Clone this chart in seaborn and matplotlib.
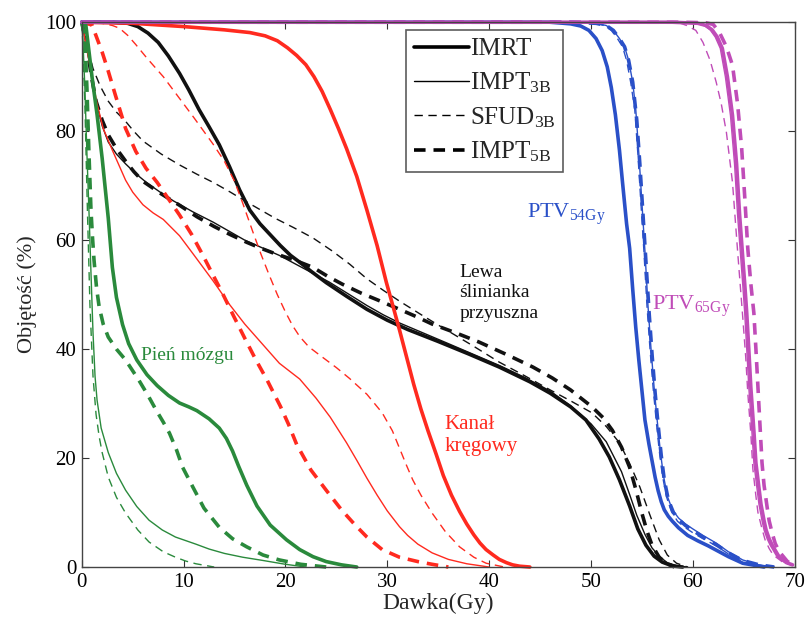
import matplotlib
matplotlib.use("Agg")
import matplotlib.pyplot as plt
from matplotlib.lines import Line2D
import seaborn as sns
import pandas as pd

# ---------------- data (dose in Gy, volume in %) ----------------
# Left parotid (black)
par_imrt_x = [0, 3, 4.5, 5.5, 6.5, 7.5, 8.5, 9.6, 10.5, 11.5, 12.5, 13.5, 14.5, 15.5, 16.5, 17.5, 18.5, 19.5, 20.5, 21.5, 22.5, 24, 26, 28, 30, 32, 35, 38, 41, 44, 46, 48, 49.5, 50.8, 51.8, 52.8, 53.8, 54.6, 55.4, 56.2, 57, 58, 59]
par_imrt_y = [100, 100, 99.8, 99.2, 98, 96.3, 93.8, 90.6, 87.6, 84, 80.8, 77.5, 73.5, 69.2, 65.5, 63, 61, 59, 57.2, 55.8, 54.3, 52.2, 49.7, 47.3, 45.3, 43.6, 41.4, 39.1, 36.7, 34, 31.9, 29.4, 27, 23.5, 20.2, 16, 11.2, 7, 4, 2, 0.9, 0.2, 0]
par_impt3_x = [0, 0.3, 0.7, 1.0, 1.4, 2.0, 2.6, 3.4, 4.3, 5.3, 6.4, 7.7, 9, 10.9, 12.9, 14.5, 16, 17.7, 19.4, 21.8, 24.3, 26.2, 28, 29.6, 31.2, 33.6, 36, 38.5, 41, 43.5, 46, 48, 50, 51.5, 53, 53.8, 54.5, 55.3, 56, 56.8, 57.5, 58.5, 59.5]
par_impt3_y = [100, 97, 93, 89.5, 85.5, 81, 78, 75.8, 74, 72.2, 70.5, 68.8, 67.2, 65.2, 63.3, 61.6, 60, 58.6, 57.2, 54.8, 52.3, 50.1, 48, 46.3, 44.8, 42.9, 41, 39, 37, 34.8, 32.3, 29.6, 26.3, 23, 17.5, 13.3, 9.5, 6, 3.5, 1.8, 0.8, 0.2, 0]
par_sfud_x = [0, 0.3, 0.7, 1.1, 1.8, 2.6, 3.4, 4.3, 5.1, 6, 7.8, 9.6, 11.3, 13, 14.6, 16.2, 17.6, 19, 20.8, 22.7, 24.6, 26.3, 28, 29.6, 31.2, 33.6, 36, 38.5, 41, 43.5, 46, 48, 50.1, 51.5, 52.8, 53.8, 54.8, 55.8, 56.7, 57.5, 58.4, 59.5]
par_sfud_y = [100, 98, 94.5, 91.5, 88.3, 85.5, 83.5, 81.8, 80, 78.2, 75.8, 73.8, 72.1, 70.5, 68.8, 67, 65.5, 64, 62.3, 60.4, 58, 55.6, 52.9, 50.8, 48.8, 46, 43.3, 40.5, 37.6, 35.1, 32.5, 30.5, 28.3, 25.8, 22.8, 19, 14.7, 9.5, 5, 2.2, 0.7, 0]
par_impt5_x = [0, 0.3, 0.7, 1.0, 1.4, 2.0, 2.6, 3.4, 4.3, 5.1, 6, 7.8, 9.6, 11.3, 13, 14.6, 16.2, 17.6, 19, 20.8, 22.7, 24.2, 25.6, 27.4, 29.2, 31.2, 32.8, 34.4, 36.7, 39, 41.6, 44.3, 46.2, 48, 50.1, 51.2, 52.1, 53, 53.8, 54.4, 55, 55.5, 56, 56.7, 57.4, 58.2]
par_impt5_y = [100, 97.5, 93, 89.5, 85.5, 82, 79.3, 76.8, 74.5, 72.6, 70.8, 68.5, 66.4, 64.3, 62.5, 61, 59.6, 58.5, 57.5, 56.4, 55, 53.3, 51.9, 50.3, 48.9, 47.3, 46, 44.6, 43, 41.3, 39.1, 36.7, 34.7, 32.5, 29.4, 27.4, 25.1, 22, 18.3, 14.3, 9.9, 6.6, 4, 1.8, 0.7, 0]

# Spinal canal (red)
sc_imrt_x = [0, 5, 10, 14, 16.5, 18, 19.2, 20.2, 21.1, 22, 22.8, 23.6, 24.4, 25.2, 26, 27, 28, 29, 29.9, 30.6, 31.2, 31.9, 32.6, 33.3, 34, 34.8, 35.5, 36.3, 37.1, 37.8, 38.5, 39.1, 39.7, 40.4, 41, 41.7, 42.3, 43, 44]
sc_imrt_y = [100, 99.8, 99.2, 98.6, 98.1, 97.5, 96.6, 95.3, 93.9, 92.2, 90, 87.3, 84, 80.5, 76.8, 71.7, 65.5, 59, 52.3, 47.6, 43.5, 38.5, 33.5, 29, 25, 20.7, 16.8, 13.2, 10.2, 7.9, 5.9, 4.4, 3.2, 2.2, 1.4, 0.8, 0.4, 0.15, 0]
sc_impt3_x = [0, 0.5, 1, 1.5, 2.1, 3, 4.3, 5, 6, 7, 8, 9.6, 11, 12.9, 14.5, 16, 17.7, 19.4, 21.4, 23, 24.4, 26, 27, 28, 29, 30, 31.2, 32, 33, 34.4, 36, 37.8, 40]
sc_impt3_y = [100, 95, 90, 85, 80.5, 76.5, 71, 68.8, 66.5, 65, 63.8, 60.8, 57.3, 52.5, 48.2, 44.6, 41, 37.4, 34.5, 31, 27.5, 22.8, 19.6, 16.3, 13.2, 10.3, 7.4, 5.8, 4.2, 2.6, 1.4, 0.6, 0]
sc_sfud_x = [0, 2, 3, 3.7, 4.5, 5.3, 6.4, 8, 9.6, 11, 12.9, 14, 15, 15.8, 16.8, 17.6, 18.4, 19.2, 20, 20.7, 21.4, 22.3, 23.5, 25, 26.3, 28, 29.5, 30.5, 31.2, 31.9, 32.5, 33.3, 34.4, 35.7, 37.1, 38.5, 39.7, 41.5]
sc_sfud_y = [100, 99.8, 99.4, 98.9, 97.6, 95.9, 93.4, 90, 86, 82.5, 77.6, 74.5, 70.8, 66.8, 61.5, 57.4, 53.6, 50, 46.8, 44.3, 42.3, 40.4, 38.7, 36.6, 34.6, 31.7, 28.3, 25, 21.8, 18.6, 16, 13.2, 9.9, 6.5, 3.7, 1.8, 0.7, 0]
sc_impt5_x = [0, 1, 1.4, 2, 2.6, 3.3, 4.3, 5.3, 6.3, 7.4, 8.5, 9.6, 10.8, 11.9, 12.8, 13.8, 14.9, 16, 17.1, 18.2, 19.5, 20.3, 21.1, 22.5, 24, 25.5, 26.8, 28, 29.5, 31.2, 33, 34.4, 36]
sc_impt5_y = [100, 99.5, 97.5, 94.5, 91, 86.6, 80.5, 76.3, 73.2, 70.6, 67.6, 64.6, 61, 57.2, 53.9, 50.3, 46.1, 42, 38, 34.3, 29.5, 26.2, 22.5, 17.8, 14.1, 10.5, 7.8, 5.5, 3.2, 1.8, 1, 0.5, 0]

# Brainstem (green)
bs_imrt_x = [0, 0.4, 1, 1.5, 2, 2.6, 3, 3.4, 4, 4.6, 5.4, 6.4, 7.4, 8.5, 9.6, 10.5, 11.3, 12.5, 13.5, 14.2, 14.8, 15.4, 16.2, 17.2, 18.5, 20.1, 21.4, 22.7, 24, 25.5, 27]
bs_imrt_y = [100, 99.4, 90, 83, 75, 64, 55, 49.5, 44.5, 41, 38, 35.3, 33.3, 31.5, 30.1, 29.4, 28.7, 27.2, 25.5, 23.6, 21.3, 18.5, 15, 11.2, 7.7, 5, 3.2, 1.9, 1, 0.4, 0]
bs_impt3_x = [0, 0.1, 0.3, 0.5, 0.7, 0.9, 1.1, 1.3, 1.5, 1.9, 2.6, 3.4, 4.3, 5.4, 6.6, 7.9, 9.2, 11.2, 12.5, 14, 15.8, 17.8, 20, 22]
bs_impt3_y = [100, 97, 88, 76, 65.5, 54, 43, 35, 30.6, 25.5, 21, 17.2, 14.1, 11.1, 8.6, 6.8, 5.5, 4.2, 3.3, 2.5, 1.8, 1.2, 0.5, 0]
bs_sfud_x = [0, 0.1, 0.3, 0.55, 0.8, 1.1, 1.4, 1.7, 2, 2.6, 3.4, 4.3, 5.5, 6.6, 8, 9.2, 10.2, 11.2, 13]
bs_sfud_y = [100, 96, 85, 65.5, 48, 35, 28, 24, 21, 16.5, 12.8, 9.9, 6.8, 4.6, 2.8, 1.8, 1.1, 0.6, 0]
bs_impt5_x = [0, 0.3, 0.5, 0.7, 0.9, 1.05, 1.2, 1.45, 1.7, 2.1, 2.6, 3.4, 4.3, 5.6, 6.5, 7.3, 8, 8.6, 9.3, 9.9, 10.9, 12, 13.5, 14.8, 16.2, 17.8, 19.4, 21.5, 24]
bs_impt5_y = [100, 97, 88, 76, 65.5, 60.5, 56.3, 51.2, 47.8, 44.6, 42.2, 40, 38, 34.3, 31.5, 28.8, 26.6, 24.6, 21.5, 18.3, 14.7, 10.8, 7.3, 5.2, 3.7, 2.2, 1.3, 0.5, 0]

# PTV 54 Gy (blue)
p54_imrt_x = [0, 46, 48, 49, 49.8, 50.5, 51.1, 51.6, 52.0, 52.4, 52.8, 53.1, 53.5, 53.8, 54.1, 54.4, 54.7, 55.0, 55.3, 55.7, 56.0, 56.3, 56.6, 56.9, 57.2, 57.6, 58.0, 58.6, 59.5, 60.5, 61.5, 62.3, 63.5, 64.9, 67]
p54_imrt_y = [100, 100, 99.7, 99.3, 98.5, 97, 94.8, 91.8, 88, 83, 76.5, 70.6, 63, 58.5, 51, 44, 38, 32.5, 27, 22.5, 19.5, 16.5, 14, 12, 10.5, 9.3, 8.4, 7.2, 5.8, 4.8, 3.9, 3.1, 1.9, 0.7, 0]
p54_impt3_x = [0, 48, 50.5, 51.5, 52.2, 52.8, 53.3, 53.7, 54.1, 54.4, 54.7, 55.0, 55.3, 55.6, 55.9, 56.2, 56.5, 56.8, 57.1, 57.5, 58, 58.6, 59.2, 60, 61, 62.3, 63.5, 64.9, 66.5, 68]
p54_impt3_y = [100, 100, 99.8, 99.4, 98.5, 97, 95.5, 93, 89, 84, 76, 67, 58, 48, 40, 33, 27, 21.5, 17, 13, 10.5, 9, 8, 7, 5.8, 4.4, 2.8, 1.3, 0.4, 0]
p54_sfud_x = [0, 48, 50.3, 51.3, 52.0, 52.6, 53.1, 53.5, 53.9, 54.3, 54.6, 54.9, 55.2, 55.5, 55.8, 56.1, 56.4, 56.7, 57.0, 57.4, 57.9, 58.5, 59.2, 60, 61, 62.3, 63.5, 64.9, 66.5, 68]
p54_sfud_y = [100, 100, 99.8, 99.4, 98.5, 97, 95.5, 93, 89, 84, 76, 67, 58, 48, 40, 33, 27, 21.5, 17, 13, 10.2, 8.4, 7.3, 6.3, 5.2, 3.9, 2.4, 1.0, 0.3, 0]
p54_impt5_x = [0, 48, 50.5, 51.5, 52.2, 52.8, 53.3, 53.7, 54.1, 54.5, 54.8, 55.1, 55.4, 55.7, 56.0, 56.3, 56.6, 56.9, 57.2, 57.6, 58.1, 58.7, 59.3, 60.1, 61, 62.3, 63.5, 64.9, 66.5, 68]
p54_impt5_y = [100, 100, 99.8, 99.4, 98.5, 97, 95.5, 93, 89, 82, 74, 65, 56, 47, 39, 32, 26, 20.5, 16, 12.3, 10, 8.6, 7.6, 6.6, 5.5, 4.1, 2.6, 1.2, 0.4, 0]

# PTV 65 Gy (magenta)
p65_imrt_x = [0, 58, 60.5, 61.3, 61.9, 62.4, 62.9, 63.4, 63.9, 64.3, 64.6, 64.9, 65.1, 65.3, 65.5, 65.7, 66.0, 66.2, 66.5, 66.7, 67.0, 67.2, 67.5, 67.8, 68.5, 69.2, 69.8]
p65_imrt_y = [100, 100, 99.8, 99.4, 98.6, 97.3, 95.2, 90, 82.9, 74, 64.6, 57, 52, 46.6, 40, 33, 25, 19.1, 14.5, 11.5, 8.5, 6.8, 5.2, 4, 1.8, 0.8, 0.4]
p65_impt3_x = [0, 58, 60.3, 61.1, 61.7, 62.2, 62.7, 63.2, 63.7, 64.1, 64.4, 64.7, 64.9, 65.1, 65.3, 65.5, 65.8, 66.0, 66.3, 66.5, 66.8, 67.0, 67.3, 67.6, 68.3, 69.1, 69.8]
p65_impt3_y = [100, 100, 99.8, 99.4, 98.6, 97.3, 95.2, 90, 82.9, 74, 64.6, 57, 52, 46.6, 40, 33, 25, 19.1, 14.5, 11.5, 8.5, 6.8, 5.2, 4, 1.8, 0.8, 0.3]
p65_sfud_x = [0, 57, 58.8, 59.4, 60.3, 61, 61.7, 62.3, 62.8, 63.3, 63.9, 64.4, 64.9, 65.2, 65.4, 65.7, 65.9, 66.2, 66.4, 66.8, 67.1, 67.5, 67.9, 68.9, 69.8]
p65_sfud_y = [100, 100, 99.8, 99.4, 98.5, 96.3, 93, 89, 85, 79.8, 70.6, 58, 46, 38.5, 32, 24.5, 18, 13, 10, 7, 5, 3.4, 2.2, 0.8, 0.3]
p65_impt5_x = [0, 59, 61.3, 62.0, 62.6, 63.3, 63.9, 64.4, 64.8, 65.1, 65.4, 65.7, 66.0, 66.2, 66.4, 66.6, 66.8, 67.0, 67.3, 67.5, 67.8, 68.1, 68.5, 69.3, 70]
p65_impt5_y = [100, 100, 99.9, 99.6, 98.2, 95.5, 92.1, 85, 76.9, 68, 58.5, 52, 46.6, 40, 33, 26, 19.1, 15, 11, 8.5, 6.2, 4.3, 2.8, 1, 0.3]

plan_labels = ["IMRT", r"$\mathregular{IMPT_{3B}}$", r"$\mathregular{SFUD_{3B}}$", r"$\mathregular{IMPT_{5B}}$"]
x_ticks = [0, 10, 20, 30, 40, 50, 60, 70]
y_ticks = [0, 20, 40, 60, 80, 100]

# ---------------- style ----------------
sns.set_theme(style="ticks")
plt.rcParams["font.family"] = ["Liberation Serif", "DejaVu Serif"]
plt.rcParams["mathtext.fontset"] = "custom"
plt.rcParams["mathtext.rm"] = "Liberation Serif"

BLACK = "#111111"
RED = "#ff2a1f"
GREEN = "#2a8a3c"
BLUE = "#2a50c8"
MAG = "#c04cb8"

THICK, THIN = 2.6, 1.0
styles = {
    "IMRT": dict(lw=THICK, ls="-"),
    "IMPT3": dict(lw=THIN, ls="-"),
    "SFUD": dict(lw=THIN, ls=(0, (6, 4))),
    "IMPT5": dict(lw=THICK, ls=(0, (3.2, 2.2))),
}

curves = [
    (BLACK, "IMRT", par_imrt_x, par_imrt_y), (BLACK, "IMPT3", par_impt3_x, par_impt3_y),
    (BLACK, "SFUD", par_sfud_x, par_sfud_y), (BLACK, "IMPT5", par_impt5_x, par_impt5_y),
    (RED, "IMRT", sc_imrt_x, sc_imrt_y), (RED, "IMPT3", sc_impt3_x, sc_impt3_y),
    (RED, "SFUD", sc_sfud_x, sc_sfud_y), (RED, "IMPT5", sc_impt5_x, sc_impt5_y),
    (GREEN, "IMRT", bs_imrt_x, bs_imrt_y), (GREEN, "IMPT3", bs_impt3_x, bs_impt3_y),
    (GREEN, "SFUD", bs_sfud_x, bs_sfud_y), (GREEN, "IMPT5", bs_impt5_x, bs_impt5_y),
    (BLUE, "IMRT", p54_imrt_x, p54_imrt_y), (BLUE, "IMPT3", p54_impt3_x, p54_impt3_y),
    (BLUE, "SFUD", p54_sfud_x, p54_sfud_y), (BLUE, "IMPT5", p54_impt5_x, p54_impt5_y),
    (MAG, "IMRT", p65_imrt_x, p65_imrt_y), (MAG, "IMPT3", p65_impt3_x, p65_impt3_y),
    (MAG, "SFUD", p65_sfud_x, p65_sfud_y), (MAG, "IMPT5", p65_impt5_x, p65_impt5_y),
]

fig = plt.figure(figsize=(8.1, 6.17), dpi=100)
ax = fig.add_axes([0.101, 0.081, 0.880, 0.883])

for color, plan, xs, ys in curves:
    df = pd.DataFrame({"dose": xs, "vol": ys})
    n_before = len(ax.lines)
    sns.lineplot(data=df, x="dose", y="vol", ax=ax, color=color, estimator=None,
                 sort=False, linewidth=styles[plan]["lw"], legend=False)
    for ln in ax.lines[n_before:]:
        ln.set_linestyle(styles[plan]["ls"])
        ln.set_clip_on(False)
        ln.set_solid_joinstyle("round")

ax.set_xlim(0, 70)
ax.set_ylim(0, 100)
ax.set_xticks(x_ticks)
ax.set_yticks(y_ticks)
ax.tick_params(direction="in", length=5, width=0.8, top=True, right=True,
               labelsize=15, colors="#333333", labelcolor="black", pad=4)
for sp in ax.spines.values():
    sp.set_visible(True)
    sp.set_color("#444444")
    sp.set_linewidth(1.0)

ax.set_xlabel("Dawka(Gy)", fontsize=17, labelpad=1)
ax.set_ylabel("Objętość (%)", fontsize=16, labelpad=6)

# annotations
ax.text(10.35, 38.9, "Pień mózgu", color=GREEN, fontsize=14, ha="center", va="center")
ax.text(35.6, 24.2, "Kanał\nkręgowy", color=RED, fontsize=15, ha="left", va="center", linespacing=1.2)
ax.text(37.1, 50.3, "Lewa\nślinianka\nprzyuszna", color=BLACK, fontsize=14, ha="left", va="center", linespacing=1.25)
ax.text(43.7, 64.8, r"PTV$\mathregular{_{54Gy}}$", color=BLUE, fontsize=16, ha="left", va="center")
ax.text(56.0, 47.8, r"PTV$\mathregular{_{65Gy}}$", color=MAG, fontsize=16, ha="left", va="center")

handles = [Line2D([0], [0], color="black", lw=styles[k]["lw"], ls=styles[k]["ls"])
           for k in ["IMRT", "IMPT3", "SFUD", "IMPT5"]]
leg = ax.legend(handles, plan_labels, loc="upper left", bbox_to_anchor=(0.455, 0.985),
                fontsize=18, frameon=True, fancybox=False, handlelength=2.2,
                handletextpad=0.05, labelspacing=0.4, borderpad=0.3, borderaxespad=0)
leg.get_frame().set_edgecolor("#333333")
leg.get_frame().set_linewidth(1.2)

fig.savefig("out.png", dpi=100)
